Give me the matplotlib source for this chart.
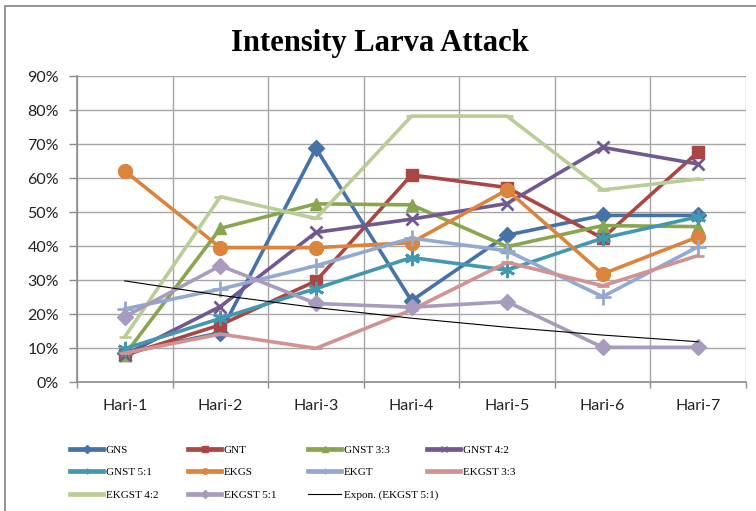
import numpy as np
import matplotlib.pyplot as plt
from matplotlib.patches import Rectangle
from matplotlib.lines import Line2D

# datos (porcentaje)
days = ["Hari-1", "Hari-2", "Hari-3", "Hari-4", "Hari-5", "Hari-6", "Hari-7"]

gns = [8.5, 14.5, 68.7, 23.9, 43.2, 49.0, 49.0]
gnt = [7.9, 16.8, 29.7, 60.9, 57.2, 42.3, 67.7]
gnst_33 = [8.0, 45.2, 52.4, 52.1, 39.8, 46.0, 45.7]
gnst_42 = [8.0, 22.2, 44.0, 47.9, 52.5, 69.0, 64.1]
gnst_51 = [9.8, 18.7, 27.5, 36.6, 32.9, 42.3, 48.6]
ekgs = [62.1, 39.5, 39.5, 41.0, 56.5, 31.8, 42.7]
ekgt = [21.5, 27.3, 34.2, 42.3, 38.6, 25.1, 39.8]
ekgst_33 = [8.5, 14.1, 9.9, 21.2, 35.2, 28.3, 37.2]
ekgst_42 = [13.3, 54.5, 48.1, 78.2, 78.2, 56.5, 59.7]
ekgst_51 = [19.2, 34.2, 23.1, 22.0, 23.6, 10.2, 10.2]

series = [
    ("GNS", gns, "#4572A7", "D", 8),
    ("GNT", gnt, "#AA4643", "s", 9),
    ("GNST 3:3", gnst_33, "#89A54E", "^", 9),
    ("GNST 4:2", gnst_42, "#71588F", "x", 9),
    ("GNST 5:1", gnst_51, "#4198AF", (6, 2, 0), 11),
    ("EKGS", ekgs, "#DB843D", "o", 10),
    ("EKGT", ekgt, "#93A9CF", "+", 11),
    ("EKGST 3:3", ekgst_33, "#D19392", "_", 9),
    ("EKGST 4:2", ekgst_42, "#B9CD96", "_", 9),
    ("EKGST 5:1", ekgst_51, "#A99BBD", "D", 8),
]

W, H = 756, 511
fig = plt.figure(figsize=(W / 100, H / 100), dpi=100)
fig.patch.set_facecolor("white")

# borde del grafico
fig.add_artist(Rectangle((5 / W, -0.05), 1.1, 1 - 6 / H + 0.05, transform=fig.transFigure,
                         fill=False, edgecolor="#8c8c8c", linewidth=1.3))

ax = fig.add_axes([77 / W, 1 - 382 / H, (746 - 77) / W, (382 - 76) / H])
x = np.arange(len(days))

handles = []
for name, vals, col, mk, ms in series:
    mew = 2 if mk in ("x", "+", (6, 2, 0), "_") else 1
    (ln,) = ax.plot(x, vals, color=col, lw=2.6, marker=mk, ms=ms, mew=mew,
                    mec=col, mfc=col, label=name, zorder=3)
    handles.append(ln)

# tendencia exponencial de EKGST 5:1
b, a = np.polyfit(x, np.log(ekgst_51), 1)
(tr,) = ax.plot(x, np.exp(a + b * x), color="black", lw=0.8, zorder=4,
                label="Expon. (EKGST 5:1)")
handles.append(tr)

ax.set_xlim(-0.5, len(days) - 0.5)
ax.set_ylim(0, 90)
ax.set_yticks(np.arange(0, 91, 10))
ax.set_yticklabels([f"{v}%" for v in range(0, 91, 10)])
ax.set_xticks(x)
ax.set_xticklabels(days)
ax.set_xticks(np.arange(-0.5, len(days)), minor=True)

ax.grid(axis="y", which="major", color="#a6a6a6", lw=1)
ax.grid(axis="x", which="minor", color="#a6a6a6", lw=1)
ax.set_axisbelow(True)
for s in ["top", "right"]:
    ax.spines[s].set_visible(False)
for s in ["left", "bottom"]:
    ax.spines[s].set_color("#8c8c8c")
    ax.spines[s].set_linewidth(1.2)

ax.tick_params(axis="y", length=6, width=1, color="#8c8c8c", pad=7,
               labelsize=11.5, labelcolor="#222222")
ax.tick_params(axis="x", which="major", length=0, pad=12, labelsize=11.5,
               labelcolor="#222222")
ax.tick_params(axis="x", which="minor", length=4, width=1, color="#8c8c8c")
for t in ax.get_xticklabels() + ax.get_yticklabels():
    t.set_family("Lato")

fig.text(380 / W, 1 - 43 / H, "Intensity Larva Attack", ha="center", va="center",
         family="Liberation Serif", fontweight="bold", fontsize=22)

# leyenda en 4 columnas de ancho igual
col_x = [70, 188, 308, 427]
for j in range(4):
    hs = handles[j::4]
    leg_handles = []
    for h in hs:
        leg_handles.append(Line2D([], [], color=h.get_color(), lw=h.get_linewidth() + 0.8
                                  if h is not tr else 0.8,
                                  marker=h.get_marker() if h is not tr else None,
                                  ms=4, mec=h.get_color(), mfc=h.get_color()))
    leg = fig.legend(leg_handles, [h.get_label() for h in hs], loc="upper left",
                     bbox_to_anchor=(col_x[j] / W, 1 - 445 / H), frameon=False,
                     borderpad=0, borderaxespad=0, handlelength=3.0,
                     handletextpad=0.2, labelspacing=1.15,
                     prop={"family": "Liberation Serif", "size": 8})

fig.savefig("out.png", dpi=100)
